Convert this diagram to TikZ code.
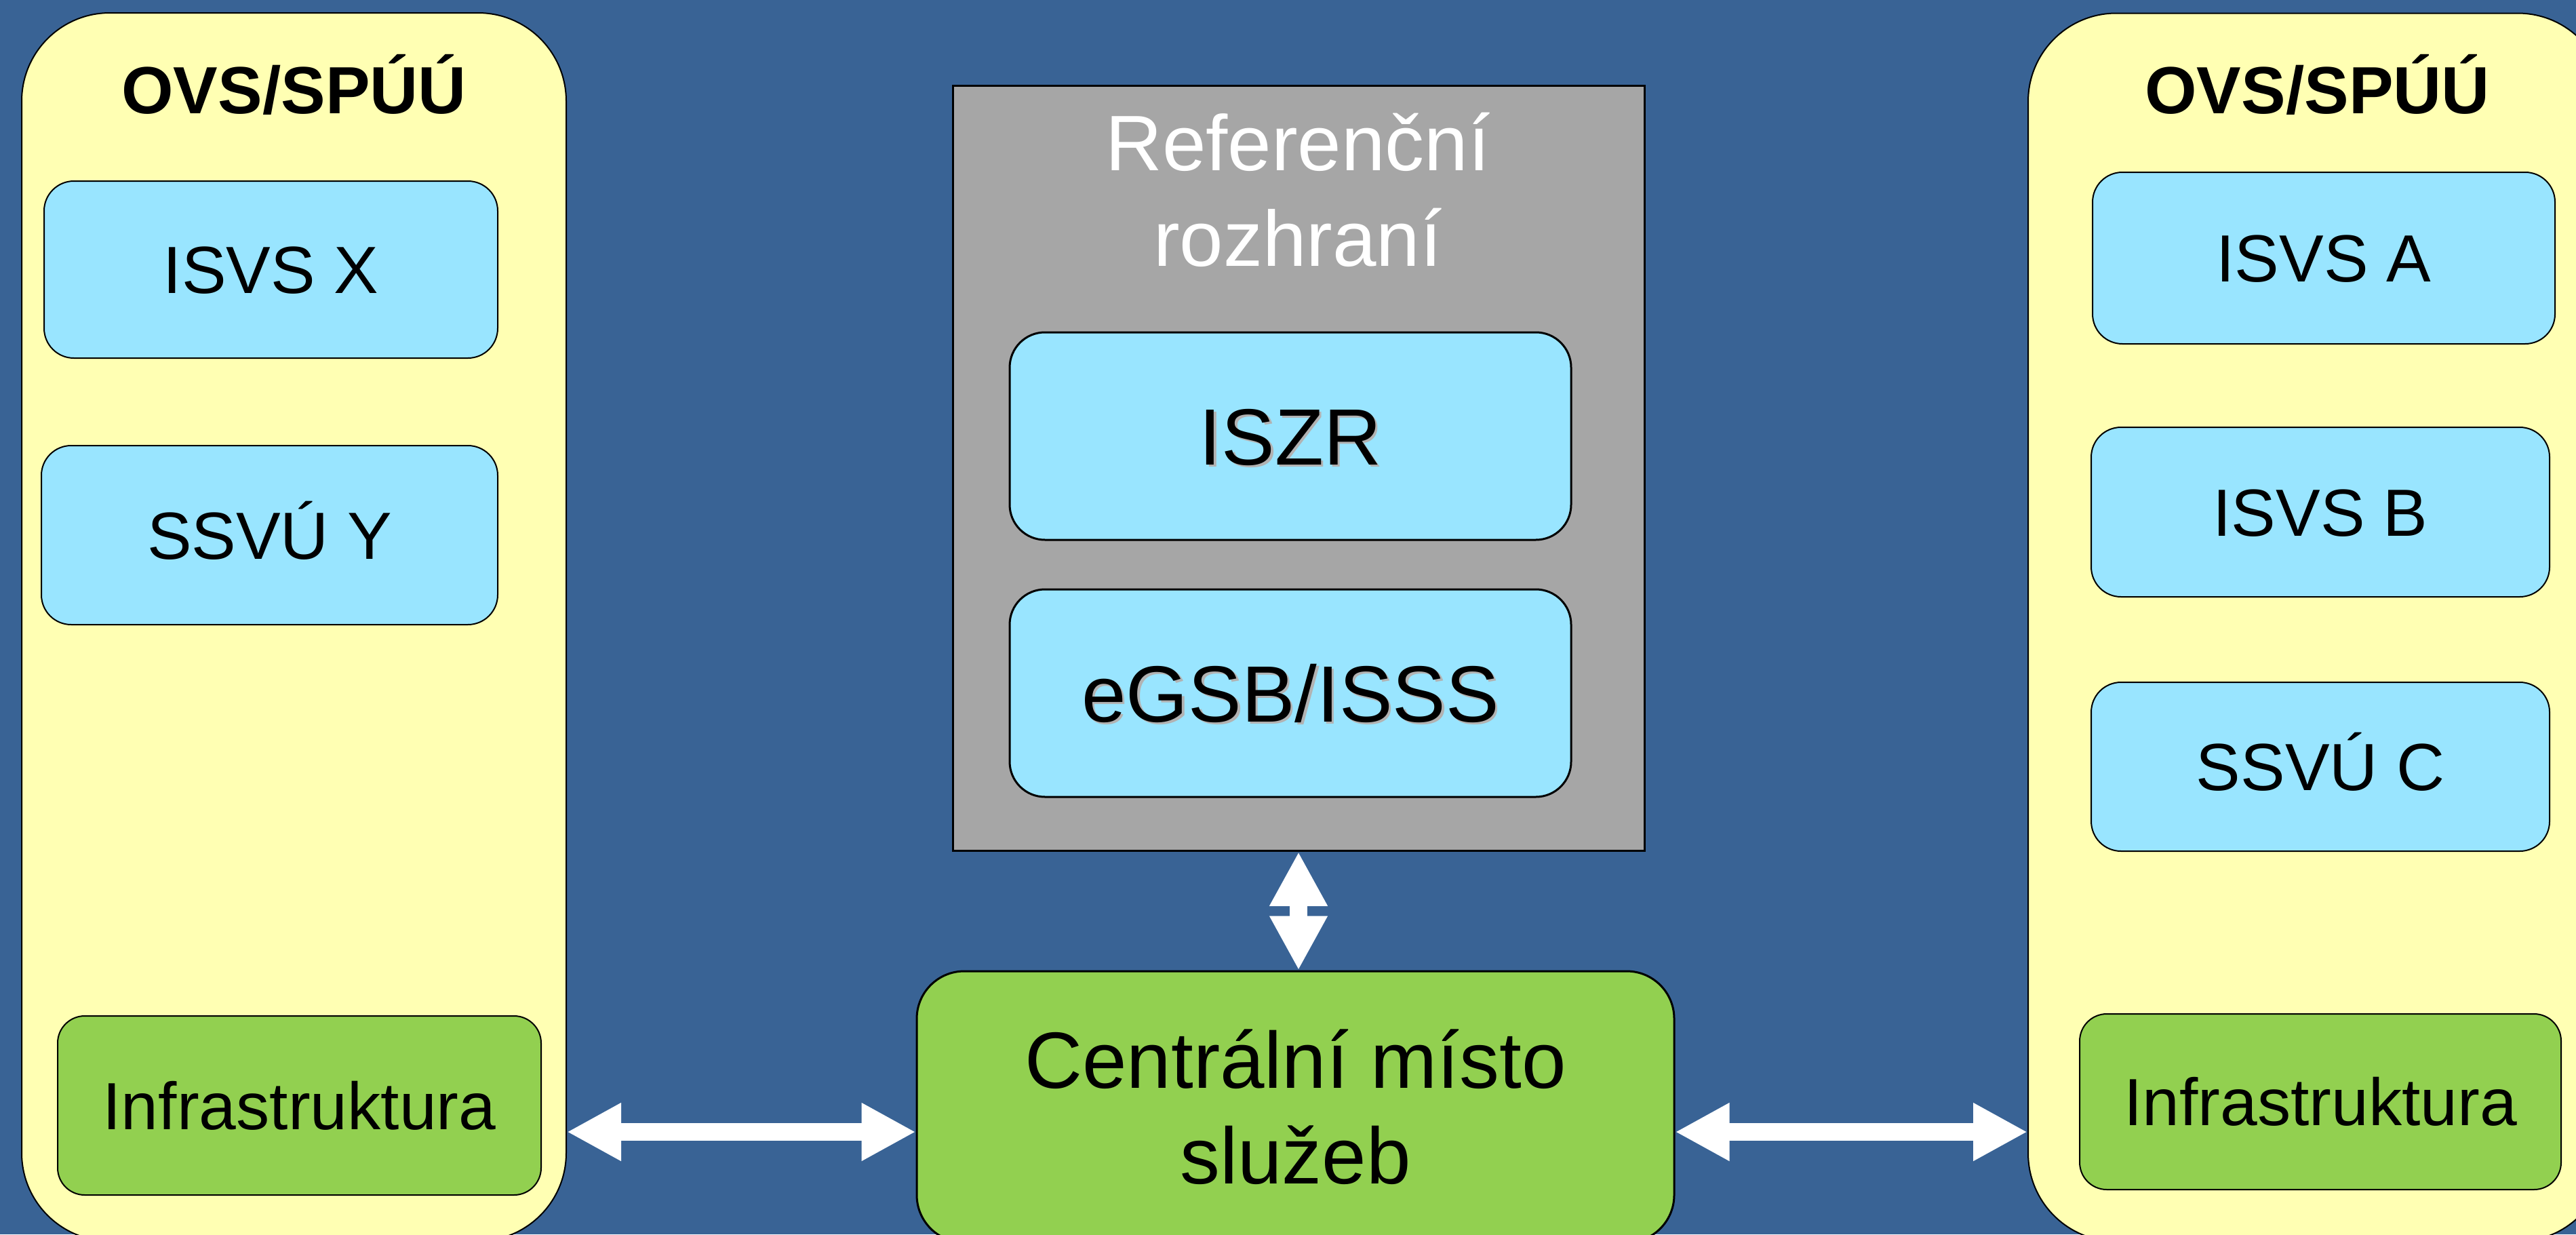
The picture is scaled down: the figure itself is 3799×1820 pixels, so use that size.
\documentclass[tikz,border=0pt]{standalone}
\usepackage{fontspec}
\setmainfont{Liberation Sans}
\usetikzlibrary{arrows.meta}
\definecolor{bgblue}{RGB}{57,99,149}
\definecolor{panelyellow}{RGB}{255,255,179}
\definecolor{sysblue}{RGB}{153,229,255}
\definecolor{infragreen}{RGB}{146,208,80}
\definecolor{refgrey}{RGB}{166,166,166}
\def\shadowed#1{\leavevmode\rlap{\hspace{1pt}\raisebox{-1pt}{\color{black!30}#1}}#1}
\tikzset{
	panel/.style={draw=black, line width=0.2mm, fill=panelyellow, rounded corners=13mm, minimum height=181.1mm},
	sysbox/.style={draw=black, line width=0.2mm, fill=sysblue, rounded corners=4.4mm, inner sep=0pt,
		font=\fontsize{28}{34}\selectfont, text height=20pt, text depth=0pt},
	infrabox/.style={sysbox, fill=infragreen, rounded corners=4mm},
	corebox/.style={draw=black, line width=0.3mm, fill=sysblue, rounded corners=5.2mm, inner sep=0pt,
		minimum width=82.8mm, minimum height=30.6mm, font=\fontsize{33.5}{40}\selectfont, text height=24pt, text depth=0pt},
	paneltitle/.style={anchor=base, font=\fontsize{28}{34}\selectfont\bfseries},
	fatarrow/.style={draw=white, line width=2.6mm, {Triangle[length=8mm, width=8mm]}-{Triangle[length=8mm, width=8mm]}}
}

\begin{document}
\begin{tikzpicture}[x=0.1mm, y=-0.1mm]
		%%%%% START %%%%%
		
		\useasboundingbox (0,0) rectangle (3799,1820);
		\clip (0,0) rectangle (3799,1820);
		\fill[bgblue] (0,0) rectangle (3799,1820);
		
		% left organisation
		\node[panel, minimum width=80.3mm] (panelL) at (433.5,924.5) {};
		\node[paneltitle] (titleL) at (433.5,167) {OVS/SPÚÚ};
		\node[sysbox, minimum width=66.9mm, minimum height=26.1mm] (isvsX) at (399.5,397.5) {ISVS X};
		\node[sysbox, minimum width=67.3mm, minimum height=26.4mm] (ssvuY) at (397.5,789) {SSVÚ Y};
		\node[infrabox, minimum width=71.3mm, minimum height=26.4mm] (infraL) at (441.5,1630) {Infrastruktura};
		
		% right organisation
		\node[panel, minimum width=85.2mm] (panelR) at (3417,925) {};
		\node[paneltitle] (titleR) at (3417.5,168) {OVS/SPÚÚ};
		\node[sysbox, minimum width=68.2mm, minimum height=25.3mm] (isvsA) at (3427,380.5) {ISVS A};
		\node[sysbox, minimum width=67.6mm, minimum height=25mm] (isvsB) at (3422,755) {ISVS B};
		\node[sysbox, minimum width=67.6mm, minimum height=24.9mm] (ssvuC) at (3422,1130.5) {SSVÚ C};
		\node[infrabox, minimum width=71mm, minimum height=25.9mm] (infraR) at (3422,1624.5) {Infrastruktura};
		
		% reference interface
		\node[draw=black, line width=0.3mm, fill=refgrey, minimum width=102mm, minimum height=112.8mm] (refbox) at (1915,690.5) {};
		\node[text=white, align=center, font=\fontsize{33}{40}\selectfont] (reftitle) at (1914,280) {Referenční\\rozhraní};
		\node[corebox] (iszr) at (1903,643) {\shadowed{ISZR}};
		\node[corebox] (egsb) at (1903,1022) {\shadowed{eGSB/ISSS}};
		
		% central service point
		\node[draw=black, line width=0.3mm, fill=infragreen, rounded corners=7mm, minimum width=111.7mm, minimum height=40mm,
			align=center, font=\fontsize{33.5}{40}\selectfont] (cms) at (1910.5,1632) {Centrální místo\\služeb};
		
		\coordinate (arrowrow) at (0,1669);
		\draw[fatarrow] (panelL.east |- arrowrow) -- (cms.west |- arrowrow);
		\draw[fatarrow] (cms.east |- arrowrow) -- (panelR.west |- arrowrow);
		\draw[fatarrow] (refbox.south) -- (refbox.south |- cms.north);
		
		%%%%% END %%%%%
	\end{tikzpicture}
\end{document}
